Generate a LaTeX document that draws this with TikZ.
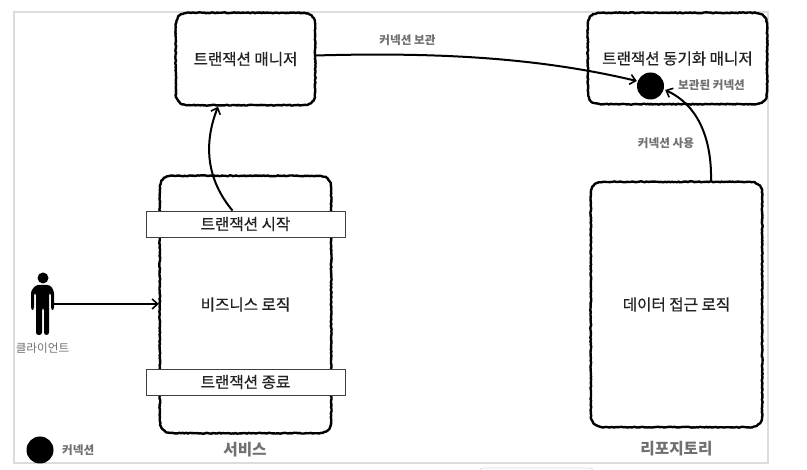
\documentclass[tikz,border=0pt]{standalone}
\usepackage{fontspec}
\setmainfont{Noto Sans CJK KR}
\newfontfamily\titlefont[FakeBold=0.6]{Noto Sans CJK KR}
\usetikzlibrary{arrows.meta,decorations.pathmorphing,calc}
\definecolor{framegray}{HTML}{DCDCDC}
\definecolor{labelgray}{HTML}{707070}
\definecolor{titlegray}{HTML}{222222}
\tikzset{
  x=1pt,y=-1pt,
  sketch/.style={fill=white,inner sep=0pt,text=titlegray,font=\fontsize{15.6}{18}\titlefont},
  sketchline/.style={draw=black,line width=2.4pt,line join=round,
    decorate,decoration={random steps,segment length=1.6pt,amplitude=0.45pt}},
  bar/.style={draw=black!75,line width=0.8pt,fill=white,inner sep=0pt,minimum width=199pt,minimum height=26pt,
    text=titlegray,font=\fontsize{15.6}{18}\titlefont},
  small/.style={text=labelgray,inner sep=0pt,font=\fontsize{11.6}{13}\selectfont\bfseries},
  big/.style={text=labelgray,inner sep=0pt,font=\fontsize{15.7}{18}\selectfont\bfseries},
  conn/.style={circle,fill=black,minimum size=27pt,inner sep=0pt},
  flow/.style={draw=black,line width=2pt,-{Straight Barb[length=5.5pt,width=10pt,line width=1.6pt]}}
}
\newcommand{\sketchoutline}[1]{%
  \draw[sketchline]
    ($(#1.north west)+(14,0)$) -- ($(#1.north east)+(-14,0)$)
    .. controls ($(#1.north east)+(-4,0)$) and ($(#1.north east)+(0,4)$) .. ($(#1.north east)+(0,14)$)
    -- ($(#1.south east)+(0,-14)$)
    .. controls ($(#1.south east)+(0,-4)$) and ($(#1.south east)+(-4,0)$) .. ($(#1.south east)+(-14,0)$)
    -- ($(#1.south west)+(14,0)$)
    .. controls ($(#1.south west)+(4,0)$) and ($(#1.south west)+(0,-4)$) .. ($(#1.south west)+(0,-14)$)
    -- ($(#1.north west)+(0,14)$)
    .. controls ($(#1.north west)+(0,4)$) and ($(#1.north west)+(4,0)$) .. ($(#1.north west)+(14,0)$);
}
\begin{document}
\begin{tikzpicture}
\useasboundingbox (0,0) rectangle (807,470);
\draw[framegray,line width=1.2pt] (14,12) rectangle (768,463);
\begin{scope}
\clip (0,0) rectangle (807,470);
\draw[framegray,line width=0.8pt,rounded corners=3pt] (480,480) -- (480,468) -- (593,468) -- (593,480);
\end{scope}

\node[sketch,minimum width=139pt,minimum height=92pt] (tm) at (245.5,59) {트랜잭션 매니저};
\node[sketch,minimum width=179pt,minimum height=91pt] (sync) at (677.5,58.5) {트랜잭션 동기화 매니저};
\node[sketch,minimum width=171pt,minimum height=257pt] (svc) at (245.5,304.5) {비즈니스 로직};
\node[sketch,minimum width=171pt,minimum height=245pt] (repo) at (676.5,304.5) {데이터 접근 로직};
\sketchoutline{tm}
\sketchoutline{sync}
\sketchoutline{svc}
\sketchoutline{repo}
\node[bar] (start) at (245.5,224) {트랜잭션 시작};
\node[bar] (end) at (245.5,382) {트랜잭션 종료};

\node[conn] (held) at (650.5,86) {};
\node[conn] (legend) at (40,450) {};
\node[small,anchor=west] (heldlabel) at (678,85.5) {보관된 커넥션};
\node[small,anchor=west] (legendlabel) at (62,450) {커넥션};
\node[small] (storelabel) at (407.5,40) {커넥션 보관};
\node[small] (uselabel) at (666,143) {커넥션 사용};
\node[big] (svclabel) at (245,450) {서비스};
\node[big] (repolabel) at (676.5,449) {리포지토리};

% client figure
\fill[black] (43,278) circle (5.5pt);
\fill[black,rounded corners=2.5pt] (31,310) -- (31,291) -- (36,285) -- (50,285) -- (54,291) -- (54,310) -- (51,310) -- (51,293) -- (49,293) -- (49,335) -- (44,335) -- (44,308) -- (42,308) -- (42,335) -- (36,335) -- (36,293) -- (34,293) -- (34,310) -- cycle;
\coordinate (client) at (51,304);
\node[text=labelgray,inner sep=0pt,font=\fontsize{11.6}{13}\selectfont] (clientlabel) at (42.5,348) {클라이언트};

\draw[flow] (client) -- ($(client -| svc.west)+(-1,0)$);
\draw[flow] ($(start.north)+(-13,0)$) .. controls (207,180) and (203,145) .. ($(tm.south)+(-27.5,1.5)$);
\draw[flow] ($(tm.east)+(0,-3.5)$) .. controls (440,52) and (540,58) .. ($(held.west)+(0,-5)$);
\draw[flow] ($(repo.north)+(34.5,0)$) .. controls (712,142) and (700,106) .. ($(held.east)+(1,4)$);
\end{tikzpicture}
\end{document}
